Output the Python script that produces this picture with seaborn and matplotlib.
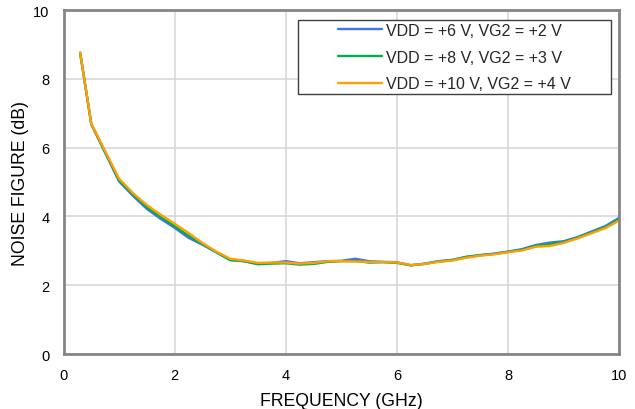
import pandas as pd
import matplotlib
matplotlib.use('Agg')
import matplotlib.pyplot as plt
from matplotlib.patches import Rectangle
import seaborn as sns

# Frequency points (GHz)
freq = [0.3, 0.5, 1.0, 1.25, 1.5, 1.75, 2.0, 2.25, 2.5, 2.75, 3.0, 3.25, 3.5, 3.75,
        4.0, 4.25, 4.5, 4.75, 5.0, 5.25, 5.5, 5.75, 6.0, 6.25, 6.5, 6.75, 7.0, 7.25,
        7.5, 7.75, 8.0, 8.25, 8.5, 8.75, 9.0, 9.25, 9.5, 9.75, 10.0]

# Noise figure (dB) for each bias condition
nf_6v = [8.75, 6.68, 5.02, 4.60, 4.22, 3.93, 3.67, 3.38, 3.18, 2.96, 2.74, 2.70, 2.62, 2.65,
         2.70, 2.64, 2.67, 2.70, 2.71, 2.77, 2.70, 2.68, 2.67, 2.58, 2.63, 2.70, 2.74, 2.82,
         2.88, 2.92, 2.98, 3.05, 3.17, 3.24, 3.28, 3.40, 3.56, 3.72, 3.96]
nf_8v = [8.76, 6.69, 5.05, 4.64, 4.27, 3.98, 3.72, 3.44, 3.20, 2.96, 2.73, 2.70, 2.61, 2.63,
         2.64, 2.60, 2.62, 2.68, 2.70, 2.71, 2.66, 2.67, 2.65, 2.58, 2.62, 2.69, 2.73, 2.83,
         2.87, 2.91, 2.97, 3.03, 3.14, 3.20, 3.26, 3.38, 3.54, 3.69, 3.92]
nf_10v = [8.77, 6.70, 5.10, 4.68, 4.33, 4.05, 3.79, 3.52, 3.23, 2.98, 2.77, 2.72, 2.65, 2.66,
          2.66, 2.63, 2.65, 2.70, 2.70, 2.69, 2.68, 2.68, 2.66, 2.59, 2.62, 2.68, 2.72, 2.80,
          2.86, 2.90, 2.96, 3.01, 3.12, 3.14, 3.23, 3.36, 3.51, 3.66, 3.88]

labels = ['VDD = +6 V, VG2 = +2 V', 'VDD = +8 V, VG2 = +3 V', 'VDD = +10 V, VG2 = +4 V']
colors = ['#4472f0', '#00b050', '#ffa000']

# Long-format table for seaborn
df = pd.concat([
    pd.DataFrame({'freq': freq, 'nf': vals, 'bias': lab})
    for vals, lab in zip([nf_6v, nf_8v, nf_10v], labels)
])

sns.set_theme(style='whitegrid')
plt.rcParams['font.family'] = ['Liberation Sans', 'DejaVu Sans']

W, H = 635, 410
fig = plt.figure(figsize=(W / 100, H / 100), dpi=100)
ax = fig.add_axes([0.1, 0.134, 0.875, 0.839])

sns.lineplot(data=df, x='freq', y='nf', hue='bias', palette=colors, linewidth=1.7, ax=ax)

ax.set_xlim(0, 10)
ax.set_ylim(0, 10)
ax.set_xticks(range(0, 11, 2))
ax.set_yticks(range(0, 11, 2))
ax.set_xlabel('FREQUENCY (GHz)', fontsize=12.7, color='black', labelpad=7)
ax.set_ylabel('NOISE FIGURE (dB)', fontsize=12.7, color='black', labelpad=3)
ax.tick_params(axis='both', labelsize=10.5, colors='black', length=0, pad=10)
ax.grid(True, color='#d4d4d4', linewidth=1.1)
for s in ax.spines.values():
    s.set_color('#858585')
    s.set_linewidth(2)

# Legend box is wider than its content, so draw the frame separately
frame = Rectangle((298 / W, 1 - 95 / H), 313 / W, 74 / H, transform=fig.transFigure,
                  facecolor='white', edgecolor='#404040', linewidth=1, zorder=4.5,
                  clip_on=False)
ax.add_patch(frame)
leg = ax.legend(loc='center', bbox_to_anchor=(454 / W, 1 - 58 / H),
                bbox_transform=fig.transFigure, fontsize=11.5, frameon=False,
                handlelength=2.75, handletextpad=0.25, labelspacing=0.75,
                borderpad=0)
leg.set_zorder(5)

fig.savefig('out.png', dpi=100)
